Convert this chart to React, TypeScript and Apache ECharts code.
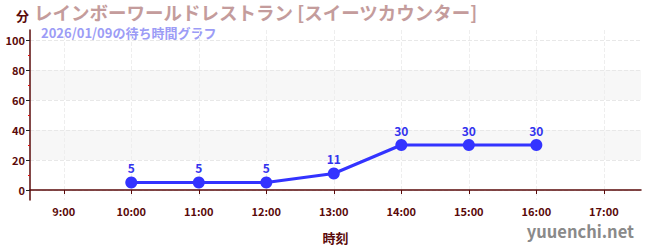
import React, { useEffect, useRef } from "react";
import * as echarts from "echarts";

const titleText = "レインボーワールドレストラン [スイーツカウンター]";
const subtitleText = "2026/01/09の待ち時間グラフ";
const unitLabel = "分";
const xAxisName = "時刻";
const watermark = "yuuenchi.net";

const hours = [10, 11, 12, 13, 14, 15, 16];
const waits = [5, 5, 5, 11, 30, 30, 30];
const xTicks = [9, 10, 11, 12, 13, 14, 15, 16, 17];
const yMajorTicks = [0, 20, 40, 60, 80, 100];
const yMinorTicks = [10, 30, 50, 70, 90];

const FONT = "'Noto Sans CJK JP', 'Noto Sans', sans-serif";
const AXIS_COLOR = "#5a0a0a";

export default function App() {
  const ref = useRef<HTMLDivElement>(null);
  useEffect(() => {
    if (!ref.current) return;
    const chart = echarts.init(ref.current, undefined, { renderer: "svg" });
    const yMin = -20 / 3;
    const yMax = 320 / 3;
    chart.setOption({
      animation: false,
      textStyle: { fontFamily: FONT },
      grid: { left: 30, right: 9, top: 30, bottom: 50, containLabel: false },
      graphic: [
        {
          type: "text",
          left: 16,
          top: 9,
          style: { text: unitLabel, fontSize: 13, fontWeight: "bold", fill: AXIS_COLOR, fontFamily: FONT },
        },
        {
          type: "text",
          left: 34,
          top: 2,
          style: { text: titleText, fontSize: 18.5, lineHeight: 20, fontWeight: "bold", fill: "#c49c9c", fontFamily: FONT },
        },
        {
          type: "text",
          left: 41,
          top: 25,
          style: { text: subtitleText, fontSize: 13, lineHeight: 14, fontWeight: "bold", fill: "#9c9cf6", fontFamily: FONT },
        },
        {
          type: "text",
          right: 16,
          top: 223,
          style: { text: watermark, fontSize: 16.5, fontWeight: "bold", fill: "#8a8a8a", fontFamily: FONT },
        },
      ],
      xAxis: {
        type: "value",
        min: 8.5,
        max: 17.55,
        name: xAxisName,
        nameLocation: "middle",
        nameGap: 31,
        nameTextStyle: { color: AXIS_COLOR, fontSize: 13, fontWeight: "bold", fontFamily: FONT },
        axisLine: { show: true, lineStyle: { color: AXIS_COLOR, width: 1.5 } },
        axisTick: { show: true, customValues: xTicks, length: 4, lineStyle: { color: AXIS_COLOR } },
        axisLabel: {
          customValues: xTicks,
          formatter: (v: number) => `${v}:00`,
          color: AXIS_COLOR,
          fontSize: 11,
          fontWeight: "bold",
          margin: 5,
          fontFamily: FONT,
        },
        splitLine: { show: true, lineStyle: { color: "#eeeeee", type: "dashed" } },
      },
      yAxis: [
        {
          type: "value",
          min: yMin,
          max: yMax,
          axisLine: { show: true, lineStyle: { color: AXIS_COLOR, width: 1.5 } },
          axisTick: { show: true, customValues: yMajorTicks, length: 4, lineStyle: { color: "#222" } },
          axisLabel: {
            customValues: yMajorTicks,
            color: AXIS_COLOR,
            fontSize: 11,
            fontWeight: "bold",
            margin: 5,
            fontFamily: FONT,
          },
          splitLine: { show: true, lineStyle: { color: "#e8e8e8", type: "dashed" } },
          splitArea: { show: true, areaStyle: { color: ["rgba(255,255,255,0)", "#f7f7f7"] } },
        },
        {
          type: "value",
          min: yMin,
          max: yMax,
          position: "left",
          axisLine: { show: false },
          axisTick: { show: true, customValues: yMinorTicks, length: 2, lineStyle: { color: "#e01010" } },
          axisLabel: { show: false },
          splitLine: { show: false },
          splitArea: { show: false },
        },
      ],
      series: [
        {
          type: "line",
          data: hours.map((h, i) => [h, waits[i]]),
          yAxisIndex: 0,
          symbol: "circle",
          symbolSize: 12,
          lineStyle: { color: "#3333ff", width: 3 },
          itemStyle: { color: "#3333ff" },
          label: {
            show: true,
            position: "top",
            distance: 3,
            color: "#3333ee",
            fontSize: 12,
            fontWeight: "bold",
            fontFamily: FONT,
          },
        },
      ],
    });
    return () => chart.dispose();
  }, []);
  return <div ref={ref} style={{ width: 650, height: 250, position: "absolute", left: 0, top: 0 }} />;
}
